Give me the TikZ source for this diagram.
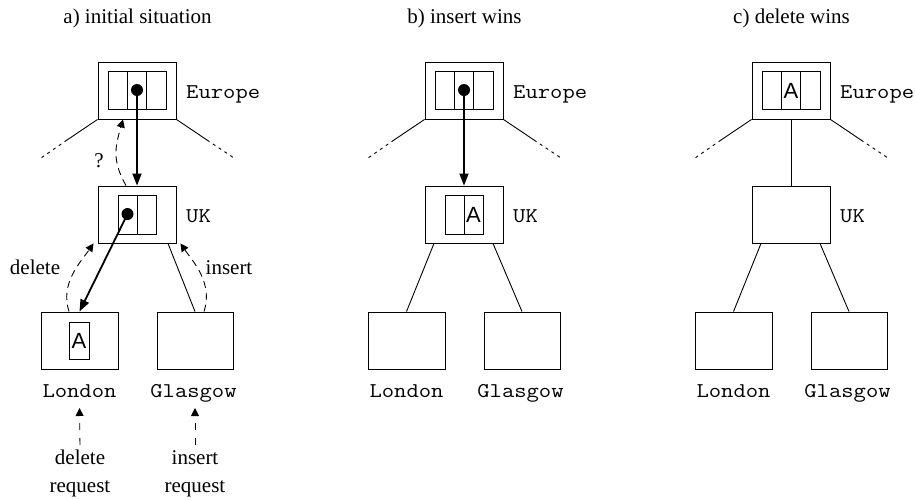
\documentclass[tikz,border=0pt]{standalone}
\usepackage{fontspec}
\setmainfont{Liberation Serif}
\setmonofont[FakeStretch=1.14]{Latin Modern Mono}
\newfontfamily\sansA{Liberation Sans}
\usetikzlibrary{arrows.meta}
\tikzset{
  box/.style={draw, line width=0.9pt, minimum width=78pt, minimum height=57pt, inner sep=0pt},
  cell/.style={draw, line width=0.9pt, minimum width=19.3pt, minimum height=38.5pt, inner sep=0pt, font=\sansA\fontsize{22}{24}\selectfont},
  ptr/.style={circle, fill, minimum size=12pt, inner sep=0pt},
  lbl/.style={font=\ttfamily\fontsize{21}{25}\selectfont, inner sep=0pt},
  txt/.style={font=\fontsize{21}{25}\selectfont, inner sep=0pt},
  conn/.style={line width=0.9pt},
  dotted end/.style={line width=0.9pt, dash pattern=on 3pt off 4pt},
  boldarrow/.style={line width=1.8pt, -{Triangle[length=12pt,width=9pt]}},
  dashedarc/.style={line width=0.9pt, dash pattern=on 7pt off 5pt, -{Triangle[length=8pt,width=8pt]}},
  reqarrow/.style={line width=0.9pt, dash pattern=on 7pt off 8pt, -{Triangle[length=8pt,width=8pt]}},
}
\begin{document}
\begin{tikzpicture}[x=1pt,y=-1pt]
\useasboundingbox (0,0) rectangle (916,499);

% ---------------- panel a ----------------
\node[txt, anchor=base] (aT) at (137.5,23) {a) initial situation};
\node[box] (aEu) at (137,90.5) {};
\node[cell] (aE1) at (117.7,90.5) {};
\node[cell] (aE2) at (137,90.5) {};
\node[cell] (aE3) at (156.3,90.5) {};
\node[ptr] (aEd) at (137,90) {};
\node[lbl, anchor=base west] (aEuT) at (186,98) {Europe};
\coordinate (aEL1) at (67,140);
\coordinate (aEL) at (41,158);
\coordinate (aER1) at (207,140);
\coordinate (aER) at (234,158);
\draw[conn] (aEu.south west) -- (aEL1);
\draw[dotted end] (aEL1) -- (aEL);
\draw[conn] (aEu.south east) -- (aER1);
\draw[dotted end] (aER1) -- (aER);

\node[box] (aUK) at (137,214.5) {};
\node[cell, minimum width=19pt] (aU1) at (127.5,215) {};
\node[cell, minimum width=19pt] (aU2) at (146.5,215) {};
\node[ptr] (aUd) at (127.5,214) {};
\node[lbl, anchor=base west] (aUKT) at (186,222) {UK};

\node[box, minimum width=77pt] (aLon) at (79.5,340.5) {};
\node[cell, minimum width=20pt, minimum height=37pt] (aL1) at (79,340.5) {A};
\node[box, minimum width=76pt] (aGla) at (195,340.5) {};
\node[lbl, anchor=base] (aLonT) at (79.5,397) {London};
\node[lbl, anchor=base] (aGlaT) at (193.5,397) {Glasgow};

\draw[boldarrow] (aEd.center) -- (aUK.north);
\draw[boldarrow] (aUd.center) -- (aLon.north);
\draw[conn] ([xshift=31pt]aUK.south) -- (aGla.north);

\draw[dashedarc] ([xshift=-11pt]aUK.north) .. controls +(-14,-25) and +(-8,28) .. ([xshift=-14pt]aEu.south);
\node[txt, anchor=base] (aQ) at (99,167) {?};
\draw[dashedarc] ([xshift=-10.5pt]aLon.north) .. controls +(-9,-28) and +(-14,20) .. ([xshift=-4pt]aUK.south west);
\node[txt, anchor=base] (aDl) at (35,274) {delete};
\draw[dashedarc] ([xshift=9pt]aGla.north) .. controls +(9,-28) and +(14,20) .. ([xshift=4pt]aUK.south east);
\node[txt, anchor=base] (aIn) at (229,274) {insert};

\node[txt, anchor=base] (aDel) at (80,464) {delete};
\node[txt, anchor=base] (aDelR) at (80,492) {request};
\node[txt, anchor=base] (aIns) at (195,464) {insert};
\node[txt, anchor=base] (aInsR) at (195,492) {request};
\draw[reqarrow] ([yshift=19pt]aDel.base) -- ([yshift=-11pt]aLonT.base);
\draw[reqarrow] ([yshift=19pt]aIns.base) -- ([yshift=-11pt]aGlaT.base -| aIns.base);

% ---------------- panel b ----------------
\begin{scope}[xshift=327pt]
\node[txt, anchor=base] (bT) at (137.5,23) {b) insert wins};
\node[box] (bEu) at (137,90.5) {};
\node[cell] (bE1) at (117.7,90.5) {};
\node[cell] (bE2) at (137,90.5) {};
\node[cell] (bE3) at (156.3,90.5) {};
\node[ptr] (bEd) at (137,90) {};
\node[lbl, anchor=base west] (bEuT) at (186,98) {Europe};
\coordinate (bEL1) at (67,140);
\coordinate (bEL) at (41,158);
\coordinate (bER1) at (207,140);
\coordinate (bER) at (234,158);
\draw[conn] (bEu.south west) -- (bEL1);
\draw[dotted end] (bEL1) -- (bEL);
\draw[conn] (bEu.south east) -- (bER1);
\draw[dotted end] (bER1) -- (bER);

\node[box] (bUK) at (137,214.5) {};
\node[cell, minimum width=19pt] (bU1) at (127.5,215) {};
\node[cell, minimum width=19pt] (bU2) at (146.5,215) {A};
\node[lbl, anchor=base west] (bUKT) at (186,222) {UK};

\node[box, minimum width=77pt] (bLon) at (79.5,340.5) {};
\node[box, minimum width=76pt] (bGla) at (195,340.5) {};
\node[lbl, anchor=base] (bLonT) at (79.5,397) {London};
\node[lbl, anchor=base] (bGlaT) at (193.5,397) {Glasgow};

\draw[boldarrow] (bEd.center) -- (bUK.north);
\draw[conn] ([xshift=-30pt]bUK.south) -- (bLon.north);
\draw[conn] ([xshift=29pt]bUK.south) -- (bGla.north);
\end{scope}

% ---------------- panel c ----------------
\begin{scope}[xshift=654pt]
\node[txt, anchor=base] (cT) at (137.5,23) {c) delete wins};
\node[box] (cEu) at (137,90.5) {};
\node[cell] (cE1) at (117.7,90.5) {};
\node[cell] (cE2) at (137,90.5) {A};
\node[cell] (cE3) at (156.3,90.5) {};
\node[lbl, anchor=base west] (cEuT) at (186,98) {Europe};
\coordinate (cEL1) at (67,140);
\coordinate (cEL) at (41,158);
\coordinate (cER1) at (207,140);
\coordinate (cER) at (234,158);
\draw[conn] (cEu.south west) -- (cEL1);
\draw[dotted end] (cEL1) -- (cEL);
\draw[conn] (cEu.south east) -- (cER1);
\draw[dotted end] (cER1) -- (cER);

\node[box] (cUK) at (137,214.5) {};
\node[lbl, anchor=base west] (cUKT) at (186,222) {UK};

\node[box, minimum width=77pt] (cLon) at (79.5,340.5) {};
\node[box, minimum width=76pt] (cGla) at (195,340.5) {};
\node[lbl, anchor=base] (cLonT) at (79.5,397) {London};
\node[lbl, anchor=base] (cGlaT) at (193.5,397) {Glasgow};

\draw[conn] (cEu.south) -- (cUK.north);
\draw[conn] ([xshift=-30pt]cUK.south) -- (cLon.north);
\draw[conn] ([xshift=29pt]cUK.south) -- (cGla.north);
\end{scope}
\end{tikzpicture}
\end{document}
